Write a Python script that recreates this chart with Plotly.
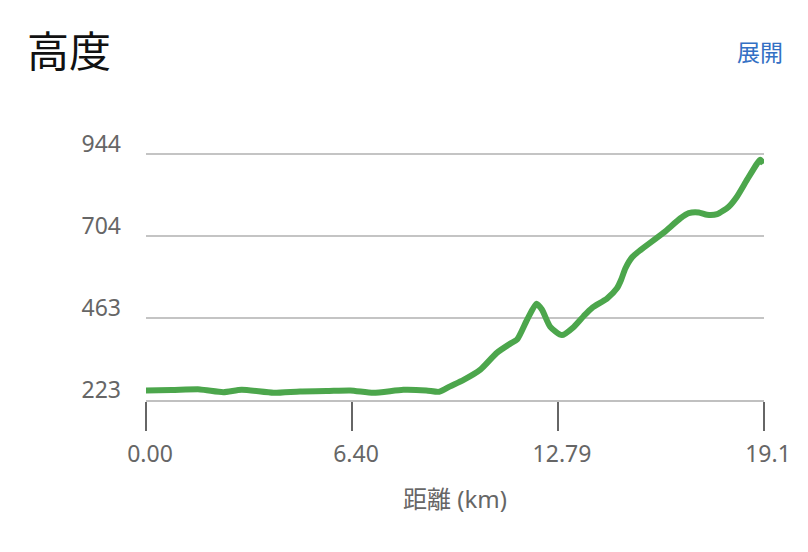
import plotly.graph_objects as go

distance_km = [0.00, 0.80, 1.68, 2.40, 2.97, 3.96, 4.78, 5.60, 6.34, 7.06, 7.99, 8.70,
               9.10, 9.44, 9.86, 10.38, 10.89, 11.31, 11.52, 11.83, 12.12, 12.29, 12.55,
               12.91, 13.28, 13.59, 13.85, 14.31, 14.62, 14.75, 14.88, 15.09, 15.35, 16.07,
               16.59, 16.85, 17.16, 17.42, 17.73, 18.09, 18.35, 18.66, 18.97, 19.07, 19.17]
elevation_m = [251, 252, 254, 246, 253, 244, 248, 249, 251, 244, 253, 251,
               247, 263, 282, 312, 361, 388, 400, 458, 505, 488, 437,
               413, 437, 469, 493, 520, 550, 575, 608, 641, 662, 713,
               755, 770, 772, 765, 767, 789, 819, 868, 915, 926, 915]

x_tick_vals = [0.0, 6.395, 12.79, 19.185]
x_tick_text = ["0.00", "6.40", "12.79", "19.1"]
y_tick_vals = [223, 463.33, 703.67, 944]
y_tick_text = ["223", "463", "704", "944"]

title_text = "高度"
expand_text = "展開"
x_title = "距離 (km)"

FONT = "Noto Sans, Noto Sans CJK JP, sans-serif"
GRAY = "#666666"

fig = go.Figure()
fig.add_trace(go.Scatter(
    x=distance_km, y=elevation_m, mode="lines",
    line=dict(color="#4ca64c", width=6, shape="spline", smoothing=0.6),
    hoverinfo="skip", showlegend=False,
))

fig.update_layout(
    width=808, height=552,
    margin=dict(l=146, r=44, t=152, b=152),
    paper_bgcolor="white", plot_bgcolor="white",
    font=dict(family=FONT, color=GRAY, size=23),
    title=dict(text=title_text, x=27/808, xref="container", xanchor="left",
               y=1 - 52/552, yref="container", yanchor="middle",
               font=dict(size=42, color="#111111", family=FONT)),
    showlegend=False,
)

fig.update_xaxes(
    range=[0, 19.185], showgrid=False, zeroline=False,
    showline=True, linecolor="#c0c0c0", linewidth=2,
    ticks="outside", ticklen=29, tickwidth=2, tickcolor=GRAY,
    tickvals=x_tick_vals, ticktext=x_tick_text,
    tickfont=dict(size=23, color=GRAY, family=FONT),
    ticklabelstandoff=3, ticklabelshift=4,
    title=dict(text=x_title, font=dict(size=24, color=GRAY, family=FONT), standoff=24),
)
fig.update_yaxes(
    range=[223, 949], showgrid=True, gridcolor="#c4c4c4", gridwidth=1.5,
    zeroline=False, showline=False, ticks="",
    tickvals=y_tick_vals, ticktext=y_tick_text,
    tickfont=dict(size=23, color=GRAY, family=FONT),
    ticklabelstandoff=24, ticklabelshift=-10,
)

fig.add_annotation(
    text=expand_text, xref="paper", yref="paper",
    x=(785 - 146) / 618, y=(400 - 52) / 248,
    xanchor="right", yanchor="middle", showarrow=False,
    font=dict(size=23, color="#3370c4", family=FONT),
)

fig.write_html("out.html", config={"displayModeBar": False},
               post_script="document.body.style.margin='0';")
